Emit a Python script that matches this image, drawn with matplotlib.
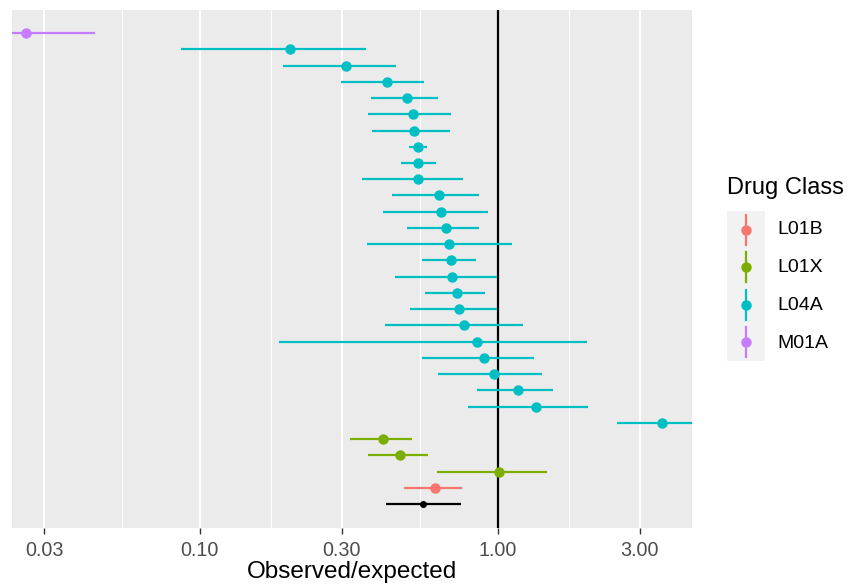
import numpy as np
import matplotlib
matplotlib.use("Agg")
import matplotlib.pyplot as plt

plt.rcParams['font.family'] = ['Liberation Sans', 'DejaVu Sans']

# one row per study, top to bottom
drug_class = (["M01A"] + ["L04A"] * 24 + ["L01X"] * 3 + ["L01B"] + ["Overall"])
est = [0.0261,
       0.201, 0.309, 0.424, 0.495, 0.518, 0.525, 0.540, 0.541, 0.541, 0.636,
       0.643, 0.670, 0.688, 0.697, 0.700, 0.730, 0.741, 0.769, 0.850, 0.901,
       0.971, 1.172, 1.340, 3.570,
       0.412, 0.470, 1.007,
       0.617,
       0.560]
lower = [0.018,
         0.0865, 0.190, 0.298, 0.375, 0.368, 0.378, 0.504, 0.473, 0.350, 0.441,
         0.411, 0.497, 0.364, 0.557, 0.452, 0.569, 0.506, 0.418, 0.185, 0.557,
         0.630, 0.853, 0.796, 2.519,
         0.320, 0.367, 0.625,
         0.486,
         0.423]
upper = [0.0445,
         0.360, 0.454, 0.564, 0.631, 0.697, 0.691, 0.579, 0.619, 0.767, 0.867,
         0.925, 0.867, 1.113, 0.845, 0.995, 0.906, 0.995, 1.215, 1.988, 1.323,
         1.405, 1.539, 2.014, 5.0,
         0.515, 0.582, 1.466,
         0.761,
         0.751]

classes = ["L01B", "L01X", "L04A", "M01A"]
colors = {"L01B": "#F8766D", "L01X": "#7CAE00", "L04A": "#00BFC4",
          "M01A": "#C77CFF", "Overall": "black"}

xticks = [0.03, 0.1, 0.3, 1, 3]
xticklabels = ["0.03", "0.10", "0.30", "1.00", "3.00"]

W, H = 849, 588
fig = plt.figure(figsize=(W / 100, H / 100), dpi=100)
ax = fig.add_axes([12 / W, 1 - 528 / H, (692 - 12) / W, (528 - 10) / H])
ax.set_facecolor("#EBEBEB")
for s in ax.spines.values():
    s.set_visible(False)

ax.set_xscale("log")
ax.set_xlim(0.0234, 4.49)
n = len(est)
ypos = np.arange(1, n + 1)
ax.set_ylim(n + 1.47, 1 - 1.42)

# grid
minor = [np.sqrt(a * b) for a, b in zip(xticks[:-1], xticks[1:])] + [np.sqrt(3 * 10)]
for m in minor:
    ax.axvline(m, color="white", lw=0.8, zorder=0)
for t in xticks:
    ax.axvline(t, color="white", lw=1.5, zorder=0)

ax.axvline(1, color="black", lw=1.6, zorder=1)

for y, c, e, lo, hi in zip(ypos, drug_class, est, lower, upper):
    col = colors[c]
    ax.plot([lo, hi], [y, y], color=col, lw=1.6, solid_capstyle="butt", zorder=2)
    ms = 4 if c == "Overall" else 6.5
    ax.plot(e, y, "o", color=col, ms=ms, mec=col, zorder=3)

ax.set_xticks(xticks)
ax.set_xticklabels(xticklabels)
ax.xaxis.set_minor_locator(matplotlib.ticker.NullLocator())
ax.tick_params(axis="x", length=4, width=1, color="#333333", labelsize=14.2,
               labelcolor="#4D4D4D", pad=5)
ax.set_yticks([])
ax.set_xlabel("Observed/expected", fontsize=17.5, labelpad=1)

# legend
fig.text(727 / W, 1 - 188 / H, "Drug Class", fontsize=17, va="center", ha="left")
lax = fig.add_axes([727 / W, 1 - 361 / H, 38 / W, 150 / H])
lax.set_facecolor("#F2F2F2")
lax.set_xlim(0, 1)
lax.set_ylim(len(classes), 0)
lax.set_xticks([])
lax.set_yticks([])
for s in lax.spines.values():
    s.set_visible(False)
for i, c in enumerate(classes):
    lax.plot([0.5, 0.5], [i + 0.1, i + 0.9], color=colors[c], lw=1.6)
    lax.plot(0.5, i + 0.5, "o", color=colors[c], ms=6.5)
    fig.text(777 / W, 1 - (230 + i * 37.7) / H, c, fontsize=14,
             va="center", ha="left")

fig.savefig("out.png", dpi=100)
